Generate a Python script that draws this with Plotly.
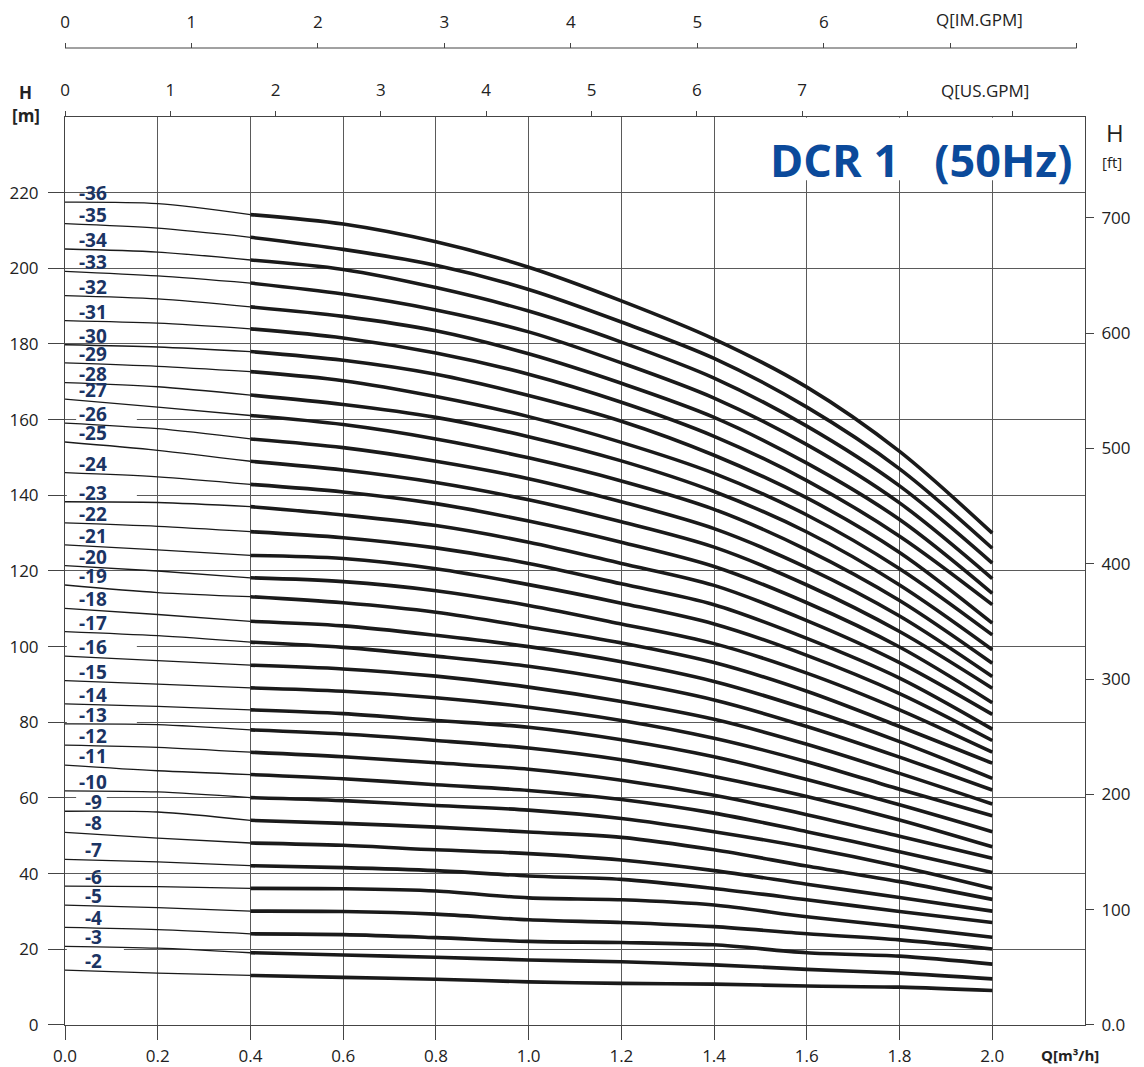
import plotly.graph_objects as go

q_pts = [0.0, 0.2, 0.4, 0.6, 0.8, 1.0, 1.2, 1.4, 1.6, 1.8, 2.0]
stages = list(range(2, 37))

# head H [m] for stages 2..36 at each flow point
h_q00 = [14.5, 20.8, 25.8, 31.7, 36.7, 43.8, 50.9, 56.5, 61.9, 68.7, 74.0, 79.6, 84.9, 91.0, 97.5, 104.0, 110.1, 116.3,
         121.4, 126.9, 132.7, 138.3, 146.0, 154.1, 159.1, 165.4, 169.8, 175.0, 179.8, 186.2, 192.8, 199.2, 205.1, 211.8, 217.5]
h_q02 = [13.7, 20.3, 25.2, 31.0, 36.6, 43.1, 49.4, 56.3, 61.6, 67.2, 73.4, 79.4, 84.2, 90.1, 96.3, 102.9, 108.5, 114.3,
         120.0, 125.6, 131.8, 138.1, 144.9, 151.9, 157.6, 163.3, 168.7, 174.1, 179.2, 185.5, 191.9, 198.0, 204.3, 210.6, 217.1]
h_q04 = [13.1, 19.1, 24.1, 30.1, 36.1, 42.1, 48.1, 54.1, 60.1, 66.2, 72.1, 78.0, 83.3, 89.1, 95.1, 101.2, 106.7, 113.2,
         118.2, 124.1, 130.4, 137.0, 142.9, 149.0, 154.9, 161.1, 166.5, 172.7, 178.0, 184.0, 189.8, 196.1, 202.2, 208.2, 214.2]
h_q06 = [12.6, 18.5, 23.9, 30.0, 36.0, 41.6, 47.5, 53.3, 59.3, 65.1, 70.9, 76.9, 82.3, 88.2, 94.1, 99.8, 105.5, 111.6,
         117.2, 123.3, 128.8, 134.8, 140.9, 146.7, 152.6, 158.7, 164.0, 170.3, 175.7, 181.6, 187.3, 193.2, 199.7, 205.0, 211.7]
h_q08 = [12.1, 17.9, 23.1, 29.3, 35.4, 40.8, 46.3, 52.3, 58.0, 63.5, 69.3, 75.2, 80.5, 86.5, 92.2, 97.5, 103.0, 109.1,
         114.8, 120.6, 126.1, 132.0, 137.8, 143.4, 149.0, 154.9, 160.6, 166.1, 172.0, 177.6, 183.5, 189.0, 194.9, 200.8, 207.0]
h_q10 = [11.4, 17.2, 22.1, 27.8, 33.6, 39.4, 45.3, 51.0, 56.8, 62.0, 67.6, 73.2, 78.7, 84.0, 89.3, 94.8, 100.0, 105.2,
         110.9, 116.4, 122.0, 127.6, 133.2, 138.8, 144.4, 149.9, 155.5, 160.8, 166.4, 172.0, 177.4, 183.2, 188.7, 194.4, 200.3]
h_q12 = [11.0, 16.7, 21.8, 27.1, 33.1, 38.5, 43.6, 49.6, 54.6, 59.6, 64.7, 70.1, 75.4, 80.5, 85.5, 90.9, 96.0, 101.0,
         106.0, 111.5, 116.6, 122.0, 127.6, 133.0, 138.3, 143.8, 149.1, 154.0, 159.6, 164.6, 169.6, 175.0, 180.5, 185.8, 191.4]
h_q14 = [10.8, 15.9, 21.2, 26.0, 31.7, 36.1, 40.8, 46.3, 51.1, 56.0, 60.7, 65.7, 70.9, 75.8, 80.8, 85.9, 90.8, 95.8,
         100.8, 106.0, 111.1, 116.2, 121.2, 126.3, 131.2, 136.3, 141.0, 145.8, 150.6, 155.6, 160.6, 165.7, 171.0, 176.2, 181.3]
h_q16 = [10.3, 14.7, 19.1, 24.1, 28.6, 33.1, 37.2, 42.0, 46.9, 51.1, 55.6, 60.4, 64.9, 69.6, 74.2, 78.9, 83.5, 88.2,
         93.0, 97.7, 102.2, 106.9, 111.6, 116.3, 120.9, 125.6, 130.3, 134.8, 139.3, 143.9, 148.5, 153.4, 158.3, 163.3, 168.6]
h_q18 = [10.0, 13.7, 18.2, 22.5, 26.0, 30.0, 33.7, 37.9, 41.9, 45.8, 49.9, 54.2, 58.2, 62.3, 66.5, 70.8, 74.9, 78.9,
         83.3, 87.6, 91.7, 95.8, 99.9, 104.0, 108.1, 112.2, 116.3, 120.6, 124.9, 129.2, 133.6, 138.0, 142.5, 147.0, 151.6]
h_q20 = [9.1, 12.2, 16.1, 20.1, 23.2, 27.1, 30.1, 33.2, 36.1, 40.3, 44.1, 47.1, 51.1, 55.3, 58.4, 62.1, 65.2, 69.2,
         72.1, 75.2, 78.2, 82.1, 85.2, 89.0, 92.1, 95.6, 99.2, 103.1, 106.2, 111.1, 114.1, 118.0, 122.1, 126.0, 130.0]

# axis ticks
q_ticks = [0.0, 0.2, 0.4, 0.6, 0.8, 1.0, 1.2, 1.4, 1.6, 1.8, 2.0]
h_ticks = [0, 20, 40, 60, 80, 100, 120, 140, 160, 180, 200, 220]
ft_ticks = [0, 100, 200, 300, 400, 500, 600, 700]
us_ticks = [0, 1, 2, 3, 4, 5, 6, 7, 8, 9]
im_ticks = [0, 1, 2, 3, 4, 5, 6, 7, 8]

M3H_PER_USGPM = 0.22712
M3H_PER_IMGPM = 0.272765
M_PER_FT = 0.3048

heads = [h_q00, h_q02, h_q04, h_q06, h_q08, h_q10, h_q12, h_q14, h_q16, h_q18, h_q20]
CURVE = "#1a1a1a"
NAVY = "#1b3463"
GRID = "#5a5a5a"
AXIS = "#444444"

fig = go.Figure()

for i, n in enumerate(stages):
    h = [col[i] for col in heads]
    # thin part below minimum flow
    fig.add_trace(go.Scatter(x=q_pts[:3], y=h[:3], mode="lines",
                             line=dict(color=CURVE, width=1.3, shape="spline", smoothing=0.8),
                             hoverinfo="skip", showlegend=False))
    # working range
    fig.add_trace(go.Scatter(x=q_pts[2:], y=h[2:], mode="lines",
                             line=dict(color=CURVE, width=3.6, shape="spline", smoothing=0.9),
                             name=f"-{n}", showlegend=False))
    fig.add_annotation(x=0.061, y=h_q00[i], xref="x", yref="y", text=f"<b>-{n}</b>",
                       showarrow=False, xanchor="center", yanchor="middle", yshift=9,
                       font=dict(family="Open Sans", size=19, color=NAVY))

# dummy traces so the secondary axes get drawn
fig.add_trace(go.Scatter(x=[0], y=[-50], xaxis="x2", yaxis="y", mode="markers",
                         marker=dict(opacity=0), hoverinfo="skip", showlegend=False))
fig.add_trace(go.Scatter(x=[0], y=[-50], xaxis="x3", yaxis="y", mode="markers",
                         marker=dict(opacity=0), hoverinfo="skip", showlegend=False))
fig.add_trace(go.Scatter(x=[0], y=[-50], xaxis="x", yaxis="y2", mode="markers",
                         marker=dict(opacity=0), hoverinfo="skip", showlegend=False))

# white patches that break the grid behind labels / title
gaps = [(160, 0.024, 0.155), (140, 0.004, 0.155), (100, 0.004, 0.155),
        (80, 0.004, 0.155), (60, 0.024, 0.09), (20, 0.004, 0.127)]
for yv, x0, x1 in gaps:
    fig.add_shape(type="rect", xref="x", yref="y", x0=x0, x1=x1, y0=yv - 0.7, y1=yv + 0.7,
                  fillcolor="white", line=dict(width=0), layer="between")
fig.add_shape(type="rect", xref="x", yref="y", x0=1.5, x1=2.19, y0=223.3, y1=239.8,
              fillcolor="white", line=dict(width=0), layer="between")
# IM.GPM scale line only runs to its last tick
fig.add_shape(type="line", xref="x3", yref="paper", x0=im_ticks[0], x1=im_ticks[-1], y0=1.0, y1=1.0,
              line=dict(color=AXIS, width=1))

font_ax = dict(family="Open Sans", size=17, color="#222222")

fig.update_layout(
    width=1144, height=1067,
    margin=dict(l=57, r=67, t=40, b=50),
    plot_bgcolor="white", paper_bgcolor="white",
    showlegend=False,
    font=font_ax,
    xaxis=dict(range=[0, 2.2], tickvals=q_ticks, ticktext=[f"{v:.1f}" for v in q_ticks],
               ticks="outside", ticklen=14, tickcolor=AXIS, showgrid=True, gridcolor=GRID,
               gridwidth=1, showline=True, linecolor=AXIS, zeroline=False, tickfont=font_ax,
               ticklabelstandoff=2, automargin=False),
    yaxis=dict(range=[0, 240], domain=[0, 0.9294], tickvals=h_ticks, ticks="outside", ticklen=16,
               tickcolor=AXIS, showgrid=True, gridcolor=GRID, gridwidth=1, showline=True,
               linecolor=AXIS, zeroline=False, tickfont=font_ax, ticklabelstandoff=6,
               automargin=False),
    xaxis2=dict(overlaying="x", side="top", anchor="y", range=[0, 2.2 / M3H_PER_USGPM],
                tickvals=us_ticks, ticktext=[str(v) if v <= 7 else "" for v in us_ticks],
                ticks="outside", ticklen=5, tickcolor=AXIS, showline=True, linecolor=AXIS,
                showgrid=False, zeroline=False, tickfont=font_ax, ticklabelstandoff=8,
                automargin=False),
    xaxis3=dict(overlaying="x", anchor="free", position=1.0, side="top",
                range=[0, 2.2 / M3H_PER_IMGPM], tickvals=im_ticks,
                ticktext=[str(v) if v <= 6 else "" for v in im_ticks],
                ticks="outside", ticklen=5, tickcolor=AXIS, showline=False,
                showgrid=False, zeroline=False, tickfont=font_ax, ticklabelstandoff=8,
                automargin=False),
    yaxis2=dict(overlaying="y", side="right", anchor="x", range=[0, 240 / M_PER_FT],
                tickvals=ft_ticks, ticktext=["0.0" if v == 0 else str(v) for v in ft_ticks],
                ticks="outside", ticklen=8, tickcolor=AXIS, showline=True, linecolor=AXIS,
                showgrid=False, zeroline=False, tickfont=font_ax, ticklabelstandoff=4,
                automargin=False),
)


def caption(x, y, text, size=17, anchor="center"):
    fig.add_annotation(x=x, y=y, xref="paper", yref="paper", text=text, showarrow=False,
                       xanchor=anchor, yanchor="middle",
                       font=dict(family="Open Sans", size=size, color="#222222"))


# title and axis captions
fig.add_annotation(x=0.99, y=0.8854, xref="paper", yref="paper", xanchor="right", yanchor="middle",
                   text="<b>DCR 1\u00a0\u00a0\u00a0(50Hz)</b>", showarrow=False,
                   font=dict(family="Open Sans", size=45, color="#0b4a9b"))
caption(-0.039, 0.954, "<b>H</b>")
caption(-0.038, 0.9314, "<b>[m]</b>")
caption(1.0294, 0.914, "H", size=24)
caption(1.0265, 0.8833, "[ft]", size=15)
caption(0.985, -0.0307, "<b>Q[m³/h]</b>", size=15)
caption(0.897, 1.0287, "Q[IM.GPM]")
caption(0.902, 0.957, "Q[US.GPM]")

fig.write_html("out.html")
